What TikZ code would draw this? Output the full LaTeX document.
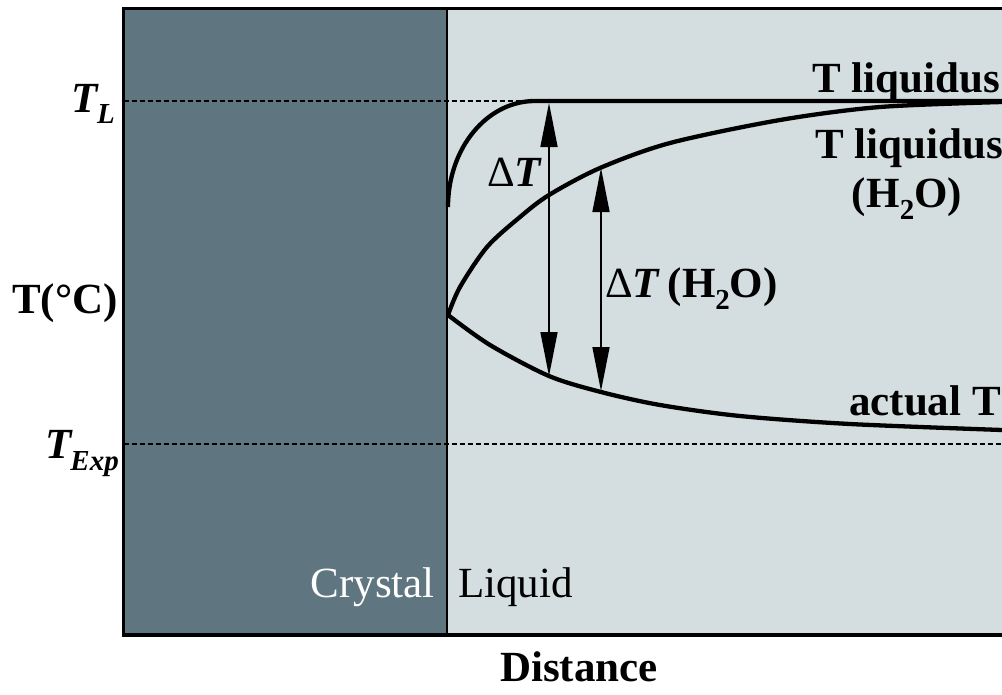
\documentclass[tikz,border=0pt]{standalone}
\usepackage{fontspec}
\setmainfont{Liberation Serif}
\usetikzlibrary{arrows.meta}
\definecolor{crystalc}{RGB}{95,117,128}
\definecolor{liquidc}{RGB}{212,222,224}
\newcommand{\bigfs}{\fontsize{43}{50}\selectfont}
\newcommand{\subsz}{\fontsize{29}{30}\selectfont}
\begin{document}
\begin{tikzpicture}[x=1pt,y=-1pt,
  lbl/.style={inner sep=0pt, font=\bigfs\bfseries},
  plain/.style={inner sep=0pt, font=\bigfs},
  curve/.style={line width=4.3pt, line join=round},
  guide/.style={line width=2.2pt, dash pattern=on 5.5pt off 2.5pt},
  dbl/.style={line width=1.5pt, {Triangle[length=44pt,width=17pt]}-{Triangle[length=44pt,width=17pt]}}]
\useasboundingbox (0,0) rectangle (1002,694);
\fill[liquidc] (447,8.5) rectangle (1002,635);
\fill[crystalc] (123.5,8.5) rectangle (447,635);
% guide lines
\draw[guide] (123.5,101) -- (540,101);
\draw[guide] (123.5,444) -- (1002,444);
% frame
\draw[line width=2pt] (447,8.5) -- (447,635);
\draw[line width=3.5pt] (1002,8.5) -- (123.5,8.5) -- (123.5,635) -- (1002,635);
% curves
\draw[curve] (448,207) .. controls (448,148) and (487,101) .. (535,101) -- (1002,101);
\draw[curve] plot[smooth] coordinates {(448,315) (460,287) (487,247) (520,217) (549,195) (600,168) (670,143) (780,120) (880,107) (1002,102)};
\draw[curve] plot[smooth] coordinates {(448,315) (490,345) (549,376) (601,392) (660,405) (740,416) (850,424) (1002,430)};
% arrow end points
\coordinate (dTtop) at (549,103);
\coordinate (dTbot) at (549,376);
\coordinate (dHtop) at (601,168);
\coordinate (dHbot) at (601,391);
\draw[dbl] (dTtop) -- (dTbot);
\draw[dbl] (dHtop) -- (dHbot);
% labels
\node[lbl, anchor=base east] (TL) at (115,112) {\itshape T\kern-1pt\raisebox{-11pt}{\subsz L}};
\node[lbl, anchor=base east] (TC) at (118,313) {T(°C)};
\node[lbl, anchor=base east] (TE) at (119,458) {\itshape T\kern-1pt\raisebox{-12pt}{\subsz Exp}};
\node[lbl, anchor=base west] (dT) at (487,186) {{\mdseries Δ}\textit{T}};
\node[lbl, anchor=base west] (dTH) at (605,297) {{\mdseries Δ}\textit{T}\,(H\raisebox{-12pt}{\subsz 2}O)};
\node[lbl, anchor=base east] (liq1) at (1000,92) {T liquidus};
\node[lbl, anchor=base east] (liq2) at (1003,158) {T liquidus};
\node[lbl, anchor=base] (liq3) at (907,207) {(H\raisebox{-12pt}{\subsz 2}O)};
\node[lbl, anchor=base east] (act) at (1001,415) {actual T};
\node[plain, anchor=base east, text=white] (cry) at (435,597) {Crystal};
\node[plain, anchor=base west] (liqd) at (458,597) {Liquid};
\node[lbl, anchor=base] (dist) at (579,681) {Distance};
\end{tikzpicture}
\end{document}
